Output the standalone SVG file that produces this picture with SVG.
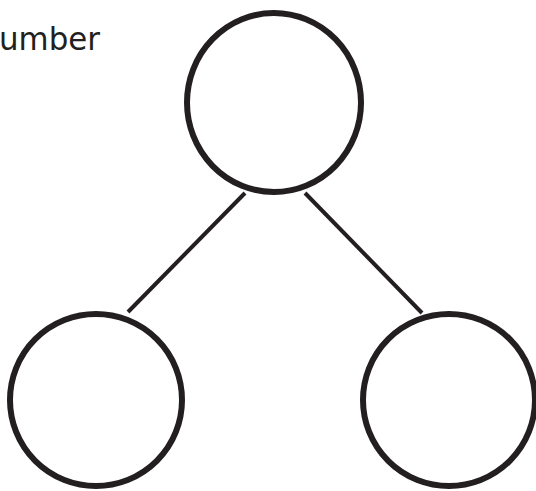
<svg xmlns="http://www.w3.org/2000/svg" width="536" height="491" viewBox="0 0 536 491">
<style>
.node{fill:#ffffff;stroke:#231f20;stroke-width:6}
.edge{stroke:#231f20;stroke-width:4;stroke-linecap:butt;fill:none}
.label{font-family:"DejaVu Sans","Liberation Sans",sans-serif;font-size:32px;fill:#231f20}
</style>
<rect width="536" height="491" fill="#ffffff"/>
<text class="label" x="-1" y="50" textLength="101" lengthAdjust="spacingAndGlyphs">umber</text>
<g id="connectors">
<line class="edge" x1="245" y1="193" x2="128" y2="312"/>
<line class="edge" x1="305" y1="193" x2="422" y2="313"/>
</g>
<g id="node-top"><ellipse class="node" cx="274" cy="102.5" rx="87" ry="89.5"/></g>
<g id="node-left"><circle class="node" cx="96" cy="400" r="86"/></g>
<g id="node-right"><circle class="node" cx="449" cy="400" r="86"/></g>
</svg>
